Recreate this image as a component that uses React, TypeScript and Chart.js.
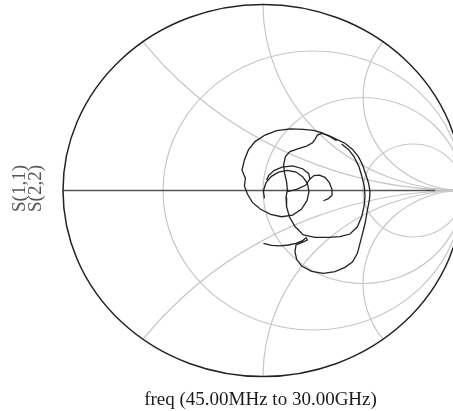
import { useEffect, useRef } from "react";
import { Chart, registerables } from "chart.js";

Chart.register(...registerables);

// Smith chart grid values (normalized)
const resistanceCircles = [1 / 3, 1, 3];
const reactanceArcs = [0.5, 1, 2, -0.5, -1, -2];

// Reflection coefficient traces (real, imaginary); null = gap
const s11Re = [
  0.002, 0.043, 0.085, 0.127, 0.165, 0.198, 0.215, 0.222, 0.193, 0.165,
  0.16, 0.168, 0.193, 0.243, 0.302, 0.36, 0.41, 0.448, 0.472, 0.485,
  0.498, 0.512, 0.522, 0.532, 0.535, 0.528, 0.515, 0.498, 0.477, 0.448,
  0.41, 0.368, 0.327, 0.293, 0.272, 0.26, 0.248, 0.218, 0.177, 0.135,
  0.112, 0.103, 0.108, 0.118, 0.122, 0.115, 0.118, 0.132, 0.16, 0.202,
  0.26, 0.327, 0.385, 0.435, 0.472, 0.493, 0.505, 0.51, 0.507, 0.495,
  0.48, 0.455, 0.427, 0.393,
];
const s11Im = [
  -0.284, -0.295, -0.298, -0.293, -0.284, -0.27, -0.254, -0.266, -0.28, -0.293,
  -0.329, -0.37, -0.406, -0.435, -0.445, -0.436, -0.413, -0.383, -0.338, -0.284,
  -0.23, -0.168, -0.105, -0.051, -0.006, 0.039, 0.083, 0.137, 0.182, 0.221,
  0.254, 0.275, 0.297, 0.307, 0.298, 0.275, 0.257, 0.239, 0.225, 0.209,
  0.182, 0.137, 0.092, 0.047, 0.003, -0.037, -0.087, -0.141, -0.194, -0.239,
  -0.252, -0.252, -0.248, -0.234, -0.195, -0.141, -0.087, -0.033, 0.021, 0.074,
  0.128, 0.182, 0.221, 0.25,
];
const s22Re = [
  0.368, 0.335, 0.293, 0.252, 0.202, 0.135, 0.068, 0.01, -0.04, -0.073,
  -0.093, -0.105, -0.088, -0.093, -0.078, -0.053, -0.012, 0.038, 0.093, 0.148,
  0.192, 0.22, 0.23, 0.222, 0.198, 0.165, 0.122, 0.078, 0.042, 0.015,
  0.002, 0.007,
  null,
  0.018, 0.028, 0.055, 0.095, 0.148, 0.198, 0.228, 0.235, 0.213, 0.168, 0.122,
  null,
  0.235, 0.255, 0.282, 0.31, 0.332, 0.345, 0.345, 0.327, 0.302,
];
const s22Im = [
  0.268, 0.289, 0.311, 0.323, 0.329, 0.331, 0.322, 0.298, 0.263, 0.218,
  0.164, 0.11, 0.065, 0.024, -0.019, -0.064, -0.101, -0.128, -0.141, -0.132,
  -0.101, -0.055, -0.006, 0.039, 0.074, 0.099, 0.108, 0.099, 0.076, 0.042,
  -0.001, -0.042,
  null,
  0.056, 0.08, 0.107, 0.126, 0.132, 0.117, 0.092, 0.062, 0.028, 0.006, -0.006,
  null,
  0.062, 0.08, 0.083, 0.071, 0.042, 0.006, -0.026, -0.044, -0.055,
];

const traceLabels = ["S(1,1)", "S(2,2)"];
const freqLabel = "freq (45.00MHz to 30.00GHz)";

function toPoints(re: (number | null)[], im: (number | null)[]) {
  return re.map((r, i) => ({ x: r === null ? 0 : r, y: r === null ? null : im[i] }));
}

const smithPlugin = {
  id: "smithGrid",
  beforeDatasetsDraw(chart: any) {
    const { ctx, scales } = chart;
    const xs = scales.x;
    const ys = scales.y;
    const cx = xs.getPixelForValue(0);
    const cy = ys.getPixelForValue(0);
    const rx = xs.getPixelForValue(1) - cx;
    const ry = cy - ys.getPixelForValue(1);

    ctx.save();
    ctx.beginPath();
    ctx.ellipse(cx, cy, rx, ry, 0, 0, Math.PI * 2);
    ctx.clip();
    ctx.strokeStyle = "#c6c6c6";
    ctx.lineWidth = 1.2;
    resistanceCircles.forEach((r) => {
      const c = r / (1 + r);
      const rad = 1 / (1 + r);
      ctx.beginPath();
      ctx.ellipse(xs.getPixelForValue(c), cy, rad * rx, rad * ry, 0, 0, Math.PI * 2);
      ctx.stroke();
    });
    reactanceArcs.forEach((xv) => {
      const rad = 1 / Math.abs(xv);
      ctx.beginPath();
      ctx.ellipse(xs.getPixelForValue(1), ys.getPixelForValue(1 / xv), rad * rx, rad * ry, 0, 0, Math.PI * 2);
      ctx.stroke();
    });
    ctx.beginPath();
    ctx.moveTo(xs.getPixelForValue(-1), cy);
    ctx.lineTo(xs.getPixelForValue(1), cy);
    ctx.stroke();
    ctx.restore();

    ctx.save();
    ctx.strokeStyle = "#555";
    ctx.lineWidth = 1.6;
    ctx.beginPath();
    ctx.moveTo(xs.getPixelForValue(-1), cy);
    ctx.lineTo(xs.getPixelForValue(0.86), cy);
    ctx.stroke();
    ctx.strokeStyle = "#222";
    ctx.lineWidth = 1.5;
    ctx.beginPath();
    ctx.ellipse(cx, cy, rx, ry, 0, 0, Math.PI * 2);
    ctx.stroke();
    ctx.restore();
  },
  afterDraw(chart: any) {
    const { ctx } = chart;
    ctx.save();
    ctx.font = '19px "Liberation Serif", "DejaVu Serif", serif';
    ctx.fillStyle = "#555";
    ctx.textAlign = "center";
    ctx.textBaseline = "alphabetic";
    const xsPos = [25, 41];
    traceLabels.forEach((t, i) => {
      ctx.save();
      ctx.translate(xsPos[i], 188.5);
      ctx.rotate(-Math.PI / 2);
      ctx.fillText(t, 0, 0);
      ctx.restore();
    });
    ctx.fillStyle = "#1a1a1a";
    ctx.fillText(freqLabel, 260.5, 405);
    ctx.restore();
  },
};

export default function App() {
  const ref = useRef<HTMLCanvasElement | null>(null);
  useEffect(() => {
    if (!ref.current) return;
    const chart = new Chart(ref.current, {
      type: "scatter",
      data: {
        datasets: [
          {
            label: traceLabels[0],
            data: toPoints(s11Re, s11Im) as any,
            showLine: true,
            borderColor: "#222",
            borderWidth: 1.3,
            pointRadius: 0,
            tension: 0,
            spanGaps: false,
          },
          {
            label: traceLabels[1],
            data: toPoints(s22Re, s22Im) as any,
            showLine: true,
            borderColor: "#222",
            borderWidth: 1.3,
            pointRadius: 0,
            tension: 0,
            spanGaps: false,
          },
        ],
      },
      options: {
        animation: false,
        responsive: false,
        maintainAspectRatio: false,
        layout: { padding: { left: 63, right: 17, top: 4.5, bottom: 34.5 } },
        plugins: { legend: { display: false }, tooltip: { enabled: false }, title: { display: false } },
        scales: {
          x: { type: "linear", min: -1, max: 1, display: false },
          y: { type: "linear", min: -1, max: 1, display: false },
        },
      },
      plugins: [smithPlugin],
    });
    return () => chart.destroy();
  }, []);
  return (
    <div style={{ position: "fixed", left: 0, top: 0, width: 453, height: 411, overflow: "hidden", background: "#fff" }}>
      <canvas ref={ref} width={480} height={411} style={{ width: 480, height: 411, display: "block" }} />
    </div>
  );
}
